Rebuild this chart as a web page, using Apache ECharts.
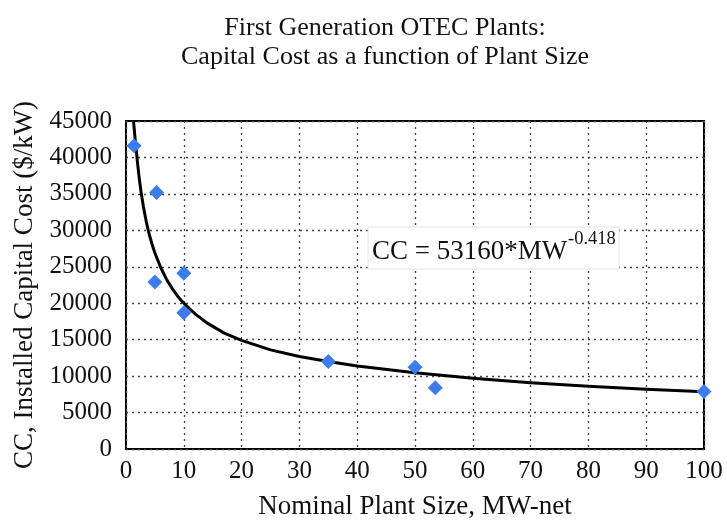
<!DOCTYPE html>
<html>
<head>
<meta charset="utf-8">
<script src="https://cdn.jsdelivr.net/npm/echarts@6/dist/echarts.min.js"></script>
<style>html,body{margin:0;padding:0;background:#fff;}#c{width:727px;height:520px;}</style>
</head>
<body>
<div id="c"></div>
<script>
var plantSize = [1.4, 5.3, 5, 10, 10, 35, 50, 53.5, 100];
var capitalCost = [41600, 35200, 22900, 24100, 18700, 12000, 11200, 8400, 7900];
var fitSize = [1.3, 1.5, 1.7, 2, 2.3, 2.6, 3, 3.5, 4, 4.5, 5, 6, 7, 8, 9, 10, 12, 14, 17, 20, 25, 30, 35, 40, 50, 60, 70, 80, 90, 100];
var fitCost = [45000, 43200, 41600, 39200, 37100, 35300, 33300, 31200, 29500, 28100, 26900, 24900, 23300, 22000, 20900, 20000, 18500, 17300, 15900, 14900, 13600, 12700, 12000, 11400, 10450, 9700, 9100, 8600, 8200, 7850];
var titleText = 'First Generation OTEC Plants:\nCapital Cost as a function of Plant Size';
var xName = 'Nominal Plant Size, MW-net';
var yName = 'CC, Installed Capital Cost ($/kW)';
var eqMain = 'CC = 53160*MW';
var eqSup = '-0.418';

var FONT = '"Liberation Serif", "Times New Roman", serif';
var chart = echarts.init(document.getElementById('c'));
var pts = plantSize.map(function (x, i) { return [x, capitalCost[i]]; });
var fit = fitSize.map(function (x, i) { return [x, fitCost[i]]; });
chart.setOption({
  backgroundColor: '#fff',
  animation: false,
  title: {
    text: titleText,
    left: 380, top: 9, textAlign: 'center',
    textStyle: { fontFamily: FONT, fontWeight: 'normal', fontSize: 26, lineHeight: 29, color: '#111' }
  },
  grid: { left: 126, right: 23, top: 121, bottom: 71, outerBoundsMode: 'none', containLabel: false, show: true, borderColor: '#000', borderWidth: 2, backgroundColor: 'transparent' },
  xAxis: {
    type: 'value', min: 0, max: 100, interval: 10,
    name: xName, nameLocation: 'middle', nameGap: 44,
    nameTextStyle: { fontFamily: FONT, fontSize: 27, color: '#111' },
    axisLine: { show: false }, axisTick: { show: false },
    axisLabel: { fontFamily: FONT, fontSize: 25, color: '#111', margin: 10 },
    splitLine: { show: true, lineStyle: { type: [2, 4], color: '#444', width: 1.3 } }
  },
  yAxis: {
    type: 'value', min: 0, max: 45000, interval: 5000,
    name: yName, nameLocation: 'middle', nameGap: 88,
    nameTextStyle: { fontFamily: FONT, fontSize: 27, color: '#111' },
    axisLine: { show: false }, axisTick: { show: false },
    axisLabel: { fontFamily: FONT, fontSize: 25, color: '#111', margin: 14, padding: [3, 0, 0, 0], formatter: function (v) { return String(v); } },
    splitLine: { show: true, lineStyle: { type: [2, 4], color: '#444', width: 1.3 } }
  },
  series: [
    {
      type: 'line', data: fit, smooth: false, symbol: 'none', clip: true,
      lineStyle: { color: '#000', width: 3, join: 'round' }, z: 2
    },
    {
      type: 'scatter', data: pts, symbol: 'diamond', symbolSize: [15, 15],
      itemStyle: { color: '#3C7CEC', opacity: 1 }, z: 3
    }
  ],
  graphic: [
    { type: 'rect', shape: { x: 368, y: 227, width: 251, height: 42 }, style: { fill: '#fff', stroke: '#e4e4e4', lineWidth: 1 }, z: 10 },
    { type: 'text', x: 372, y: 265, style: { text: eqMain, font: '27px ' + FONT, fill: '#111', verticalAlign: 'bottom' }, z: 11 },
    { type: 'text', x: 568, y: 230, style: { text: eqSup, font: '18.5px ' + FONT, fill: '#111', verticalAlign: 'top' }, z: 11 }
  ]
});
</script>
</body>
</html>
